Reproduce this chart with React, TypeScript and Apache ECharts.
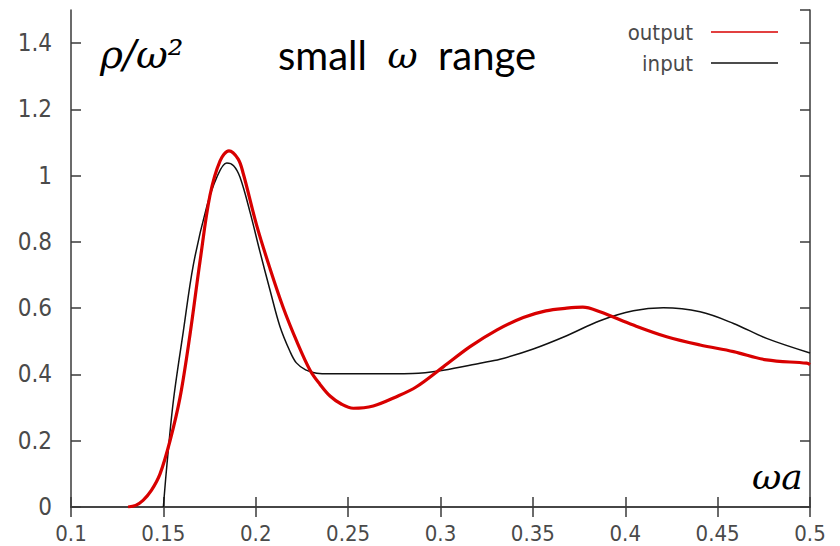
import React, { useEffect, useRef } from "react";
import * as echarts from "echarts";

// input (black) curve
const inputX = [0.15, 0.1518, 0.1554, 0.1608, 0.1662, 0.1734, 0.1789, 0.1843, 0.188, 0.1915, 0.1969, 0.2023, 0.2077, 0.2131, 0.2185, 0.222, 0.227, 0.233, 0.24, 0.26, 0.285, 0.3015, 0.3214, 0.3322, 0.3502, 0.3683, 0.3863, 0.4044, 0.4206, 0.4405, 0.4586, 0.4765, 0.5];
const inputY = [0, 0.12, 0.32, 0.53, 0.73, 0.905, 0.995, 1.038, 1.03, 0.995, 0.89, 0.77, 0.655, 0.545, 0.47, 0.435, 0.414, 0.404, 0.402, 0.402, 0.403, 0.413, 0.434, 0.446, 0.477, 0.517, 0.562, 0.592, 0.601, 0.589, 0.554, 0.509, 0.465];

// output (red) curve
const outputX = [0.1309, 0.135, 0.139, 0.1435, 0.1482, 0.1536, 0.159, 0.1644, 0.1698, 0.1752, 0.1807, 0.1855, 0.1905, 0.1933, 0.2005, 0.2077, 0.215, 0.2222, 0.2294, 0.2348, 0.2402, 0.2465, 0.2528, 0.2636, 0.2762, 0.287, 0.3015, 0.316, 0.3304, 0.3448, 0.357, 0.3683, 0.377, 0.3863, 0.4044, 0.4224, 0.4405, 0.4586, 0.4765, 0.4982, 0.5];
const outputY = [0, 0.005, 0.02, 0.05, 0.1, 0.2, 0.33, 0.52, 0.74, 0.94, 1.045, 1.075, 1.05, 1.005, 0.85, 0.72, 0.6, 0.5, 0.413, 0.37, 0.335, 0.31, 0.298, 0.305, 0.333, 0.363, 0.423, 0.484, 0.534, 0.572, 0.592, 0.6, 0.603, 0.589, 0.549, 0.514, 0.489, 0.469, 0.444, 0.434, 0.43];

const seriesNames = ["output", "input"];

const NARROW = "'Liberation Sans Narrow', 'DejaVu Sans Condensed', 'Liberation Sans', sans-serif";
const AXIS_COLOR = "#3a3a3a";
const LABEL_COLOR = "#4a4a4a";

export default function App() {
  const ref = useRef<HTMLDivElement>(null);
  useEffect(() => {
    if (!ref.current) return;
    const chart = echarts.init(ref.current, null, { renderer: "svg" });
    const axisCommon = {
      axisLine: { show: true, lineStyle: { color: AXIS_COLOR, width: 1.5 } },
      axisTick: { show: true, inside: true, length: 10, lineStyle: { color: AXIS_COLOR, width: 1.5 } },
      splitLine: { show: false },
    };
    chart.setOption({
      animation: false,
      backgroundColor: "#ffffff",
      grid: { left: 71, right: 30, top: 10, bottom: 39, containLabel: false },
      legend: {
        data: seriesNames,
        orient: "vertical",
        align: "right",
        right: 57,
        top: 16,
        icon: "rect",
        itemWidth: 67,
        itemHeight: 1.5,
        itemGap: 9,
        textStyle: { fontFamily: NARROW, fontSize: 22, color: LABEL_COLOR, lineHeight: 20, padding: [0, 13, 0, 0] },
      },
      xAxis: [
        {
          type: "value",
          min: 0.1,
          max: 0.5,
          interval: 0.05,
          position: "bottom",
          ...axisCommon,
          axisLabel: { margin: 15, fontFamily: NARROW, fontSize: 22, lineHeight: 22, color: LABEL_COLOR },
        },
        {
          type: "value",
          min: 0.1,
          max: 0.5,
          interval: 0.05,
          position: "top",
          ...axisCommon,
          axisLabel: { show: false },
        },
      ],
      yAxis: [
        {
          type: "value",
          min: 0,
          max: 1.5,
          interval: 0.2,
          position: "left",
          ...axisCommon,
          axisLabel: {
            margin: 19,
            fontFamily: NARROW,
            fontSize: 24,
            color: LABEL_COLOR,
            showMaxLabel: false,
          },
        },
        {
          type: "value",
          min: 0,
          max: 1.5,
          interval: 0.2,
          position: "right",
          ...axisCommon,
          axisLabel: { show: false },
        },
      ],
      series: [
        {
          name: "input",
          type: "line",
          data: inputX.map((x, i) => [x, inputY[i]]),
          symbol: "none",
          smooth: 0.35,
          lineStyle: { color: "#111111", width: 1.5 },
          itemStyle: { color: "#111111" },
          z: 2,
        },
        {
          name: "output",
          type: "line",
          data: outputX.map((x, i) => [x, outputY[i]]),
          symbol: "none",
          smooth: 0.35,
          lineStyle: { color: "#d80000", width: 3.2 },
          itemStyle: { color: "#d80000" },
          z: 3,
        },
      ],
      graphic: [
        {
          type: "text",
          left: 100,
          top: 35,
          style: {
            text: "ρ/ω²",
            font: "italic 39px 'DejaVu Serif', serif",
            fill: "#000",
          },
        },
        {
          type: "text",
          left: 278,
          top: 35,
          style: {
            text: "{a|small  }{w|ω}{a|  range}",
            rich: {
              a: { font: "40px Lato, 'Open Sans', sans-serif", fill: "#000" },
              w: { font: "italic 37px 'DejaVu Serif', serif", fill: "#000" },
            },
          },
        },
        {
          type: "text",
          left: 752,
          top: 458,
          style: {
            text: "ωa",
            font: "italic 36px 'DejaVu Serif', serif",
            fill: "#000",
          },
        },
      ],
    });
    return () => chart.dispose();
  }, []);
  return <div ref={ref} style={{ width: 840, height: 546, position: "absolute", left: 0, top: 0 }} />;
}
